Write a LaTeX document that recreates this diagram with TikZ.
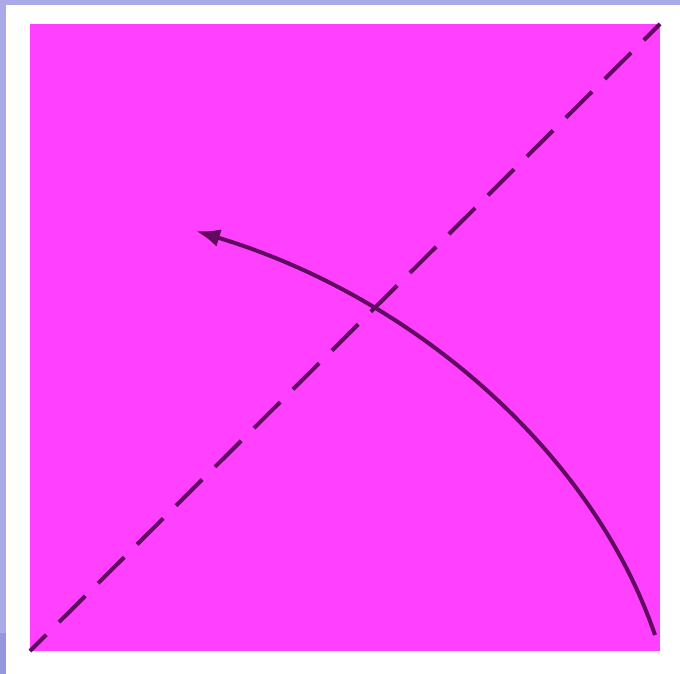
\documentclass[tikz,border=0pt]{standalone}
\usepackage{tikz}
\usetikzlibrary{arrows.meta}
\definecolor{sheet}{RGB}{255,64,255}
\definecolor{crease}{RGB}{96,10,96}
\definecolor{frame}{RGB}{170,170,232}
\definecolor{framedark}{RGB}{150,150,222}

\begin{document}
\begin{tikzpicture}[
  x=1pt, y=-1pt,
  fold/.style={crease, line width=4pt, dash pattern=on 37pt off 18pt, dash phase=14pt},
  turn/.style={crease, line width=4pt, -{Latex[length=24pt, width=18pt]}}
]
% canvas and margins
\fill[white] (0,0) rectangle (680,674);
\useasboundingbox (0,0) rectangle (680,674);
\fill[frame] (0,0) rectangle (680,5);
\fill[frame] (0,0) rectangle (6,633);
\fill[framedark] (0,633) rectangle (6,674);

% paper square
\coordinate (bl) at (30,651);
\coordinate (tr) at (660,24);
\fill[sheet] (bl) rectangle (tr);

% diagonal fold line
\draw[fold] (bl) -- (tr);

% rotation arrow
\coordinate (start) at (655,635);
\coordinate (tip) at (196,231);
\draw[turn] (start) .. controls (594,456) and (418,298) .. (tip);
\end{tikzpicture}
\end{document}
